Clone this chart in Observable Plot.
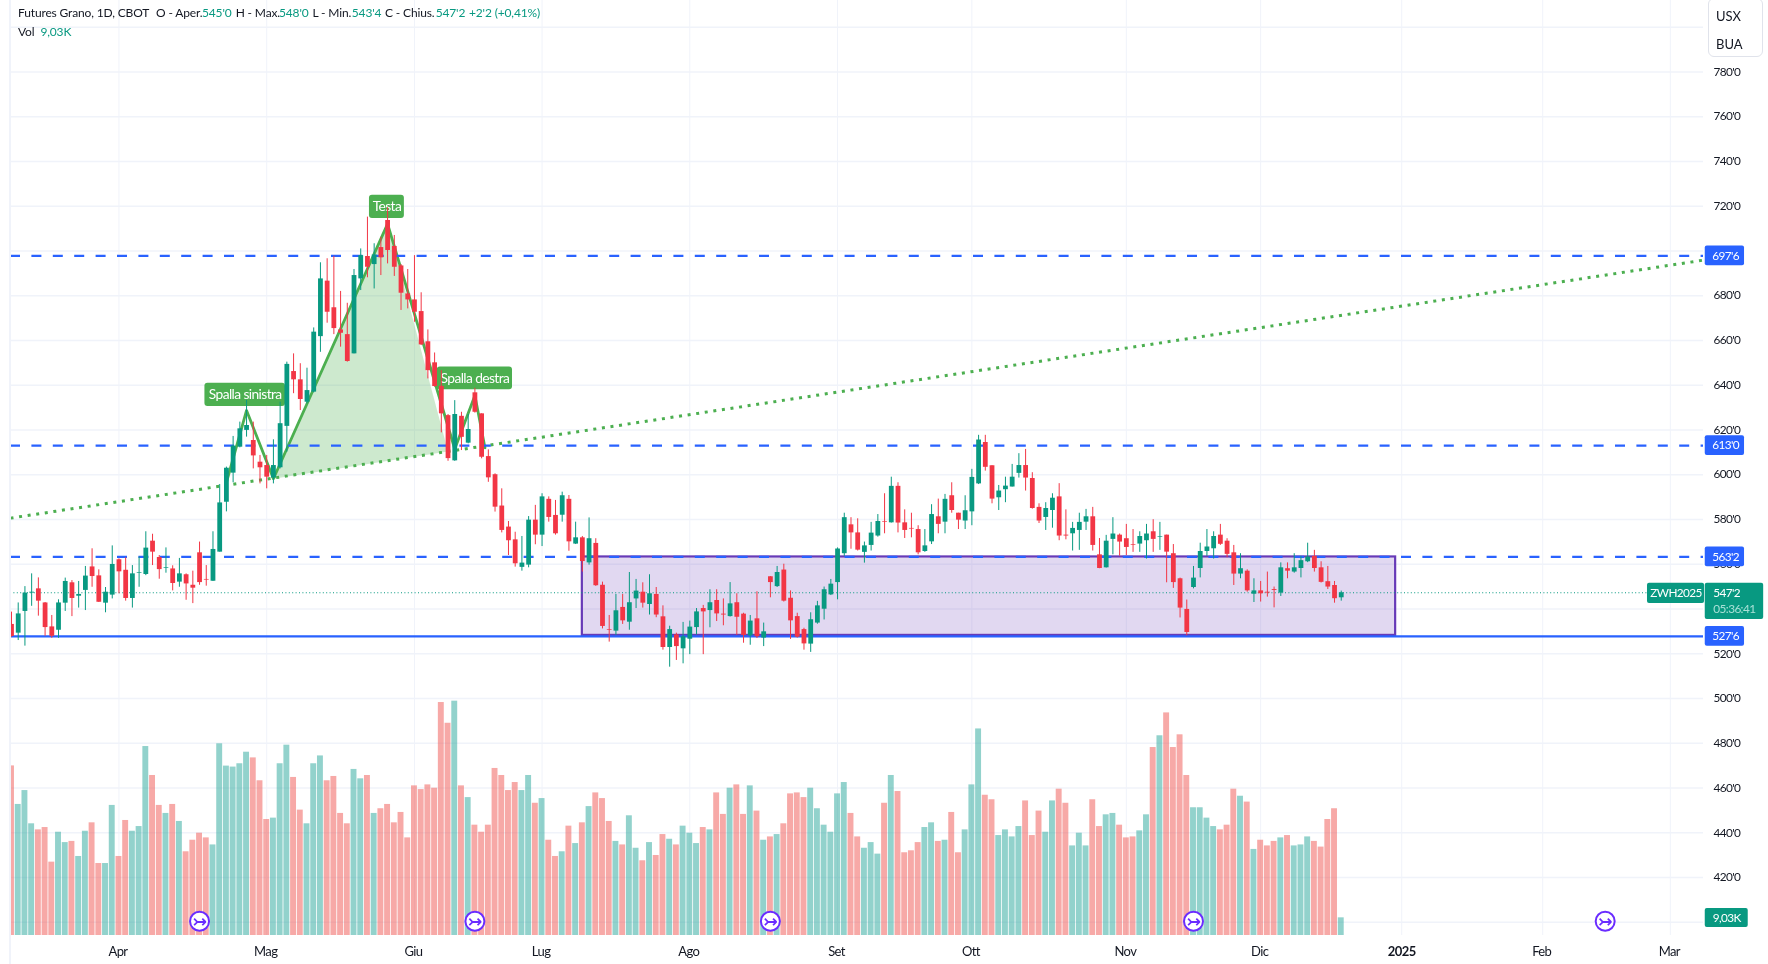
<!DOCTYPE html>
<html lang="it">
<head>
<meta charset="utf-8">
<title>Futures Grano</title>
<script src="https://cdn.jsdelivr.net/npm/d3@7"></script>
<script src="https://cdn.jsdelivr.net/npm/@observablehq/plot@0.6"></script>
<style>
html,body{margin:0;padding:0;background:#fff;}
#chart{position:relative;width:1768px;height:964px;overflow:hidden;background:#fff;font-family:"Lato",sans-serif;color:#131722;filter:blur(0.35px);}
#chart svg{position:absolute;left:0;top:0;}
#chart svg text{letter-spacing:-0.6px;}
.hd{position:absolute;font-size:12px;letter-spacing:-0.15px;line-height:16px;white-space:nowrap;}
.v{color:#089981;}
#units{position:absolute;left:1708px;top:-2px;width:55px;height:59px;border:1px solid #e0e3eb;border-radius:6px;background:#fff;font-size:13px;box-sizing:border-box;}
#units div{position:absolute;left:7px;}
</style>
</head>
<body>
<div id="chart">
</div>
<script>
const opens = [533.1,529.2,538.9,547.1,549.0,542.7,532.0,530.5,542.6,551.7,545.7,548.3,558.8,554.8,542.6,546.2,562.0,557.3,544.7,556.0,555.4,570.3,563.0,558.2,557.9,552.0,555.3,550.6,565.1,553.2,552.4,565.4,587.7,600.7,612.3,619.8,615.3,605.6,604.1,598.5,603.1,621.6,646.1,642.4,632.4,636.9,661.7,686.5,674.6,664.7,662.6,654.0,687.5,697.5,693.9,701.5,713.6,702.0,693.3,680.8,678.1,672.9,659.4,650.0,639.5,626.4,606.2,626.1,614.1,636.6,627.2,608.1,600.0,
586.0,576.6,570.9,558.6,559.6,579.7,573.0,589.0,581.8,581.9,589.0,569.0,571.8,560.6,569.3,550.6,530.8,530.1,540.7,534.1,544.5,547.5,542.0,546.5,536.5,522.8,528.4,522.2,526.5,531.7,540.2,539.3,543.8,537.7,536.6,542.8,537.7,528.0,535.6,527.0,554.4,550.0,557.4,544.8,536.6,530.8,524.3,533.7,539.9,546.3,551.8,
564.7,577.6,574.0,565.3,568.4,572.6,579.1,578.5,594.8,578.5,576.0,575.5,565.7,570.0,581.2,578.8,590.6,582.8,579.3,583.4,595.9,614.4,604.0,589.7,593.3,594.5,600.6,604.1,598.3,585.4,580.9,584.0,590.1,573.0,573.6,575.1,578.8,581.2,564.2,558.4,571.1,573.0,571.4,568.8,569.0,570.5,574.5,572.1,573.0,564.7,553.5,539.8,549.6,558.1,565.7,566.9,573.0,570.3,565.1,555.6,556.9,546.6,548.1,547.5,548.7,547.1,558.0,556.5,558.1,561.1,563.5,558.4,552.2,550.5,545.0];
const closes = [527.7,537.8,547.1,547.5,543.5,531.7,527.8,542.7,552.3,544.7,546.5,554.7,554.5,543.0,547.5,559.9,556.6,544.7,555.7,556.3,567.2,565.4,557.6,558.5,551.4,555.7,551.2,549.3,551.8,552.9,566.6,587.4,602.9,612.8,620.5,622.0,608.4,603.1,598.9,604.1,622.8,649.3,642.4,633.6,637.6,663.7,687.5,672.6,665.3,663.2,650.6,689.0,697.9,692.7,698.2,696.9,700.2,692.7,681.1,678.1,672.6,658.0,646.5,639.4,627.2,607.2,626.9,616.7,620.2,627.9,607.8,598.6,585.5,
575.1,570.5,560.2,560.5,579.7,573.0,590.1,580.9,573.6,590.6,570.0,571.8,561.2,571.4,550.4,532.2,530.5,539.2,534.7,542.8,548.0,542.6,546.8,537.3,522.8,530.8,523.2,527.6,531.9,538.7,538.7,542.8,537.8,537.3,542.3,536.3,528.2,534.6,527.6,529.8,551.8,556.3,543.5,534.7,527.4,524.4,535.2,541.4,548.6,551.1,566.8,
580.8,574.0,566.3,568.2,573.9,579.1,578.8,594.8,578.4,575.1,575.7,565.1,568.2,582.2,577.8,589.0,584.0,579.7,583.9,598.8,615.5,603.3,589.1,592.7,594.9,598.9,604.1,598.5,584.9,579.3,584.9,589.5,572.6,572.6,576.0,578.7,581.2,568.4,558.1,570.3,573.5,569.9,567.5,568.5,572.4,573.5,571.1,572.4,565.4,551.8,540.4,529.5,553.8,565.7,567.7,572.4,568.9,564.4,555.6,558.0,548.1,548.1,546.8,547.1,548.3,558.4,556.9,558.4,561.6,563.2,558.1,551.9,549.8,544.6,547.25];
const highs = [538.6,542.7,550.0,555.7,553.9,542.9,537.1,544.1,553.8,552.7,552.3,559.0,566.9,557.5,549.6,568.2,562.4,562.9,559.4,563.2,574.5,573.4,563.9,567.3,559.3,562.6,555.7,556.9,569.9,559.4,574.5,595.6,603.4,617.1,623.5,633.2,623.5,608.6,608.6,615.6,632.4,650.3,654.0,649.6,647.6,665.6,694.7,696.5,697.6,681.9,676.6,691.7,700.9,715.1,703.2,706.1,719.3,706.9,693.9,691.7,697.9,681.3,664.7,654.4,646.5,626.9,633.1,627.9,626.9,638.6,627.2,611.1,600.4,
593.7,579.1,574.3,572.4,581.3,586.3,591.5,590.1,588.5,592.2,590.7,578.8,572.4,580.7,571.4,552.0,537.1,546.5,546.5,556.3,553.2,551.7,555.3,549.6,541.4,532.3,529.2,534.0,534.6,540.2,541.6,548.6,548.6,544.5,551.8,546.8,538.1,537.1,547.7,533.7,554.5,559.0,560.0,548.1,538.1,531.4,538.3,543.4,549.8,553.2,567.3,
582.8,580.8,580.3,569.9,578.7,582.2,591.5,598.9,596.4,584.3,582.8,577.2,575.5,586.6,589.1,591.2,596.4,582.8,590.6,602.4,617.6,617.6,604.0,595.2,598.9,604.6,609.4,611.3,600.9,587.0,587.5,591.5,596.0,584.3,578.7,582.8,584.5,585.4,571.5,572.9,580.8,573.5,577.8,575.5,574.5,577.8,579.9,578.7,573.0,568.8,553.8,544.0,559.0,569.4,575.5,574.5,577.8,571.4,568.4,564.7,557.5,553.5,552.3,556.5,549.8,560.6,560.6,564.7,563.5,569.4,566.2,561.1,559.0,552.3,548.0];
const lows = [527.4,525.9,523.4,541.2,536.8,527.8,526.9,526.9,538.9,536.6,540.4,539.3,549.7,542.9,538.3,544.5,546.8,543.5,540.4,549.7,554.9,559.4,553.3,556.0,548.1,549.7,543.9,542.4,550.6,550.2,552.3,565.4,583.4,596.4,612.0,616.8,602.6,595.9,593.7,595.9,602.6,610.1,636.2,628.7,631.6,636.6,654.7,667.7,662.6,657.0,650.3,654.0,682.3,688.0,683.0,689.0,694.2,688.6,673.4,674.1,668.1,657.7,642.8,639.1,618.7,606.0,606.0,610.8,613.8,627.5,607.1,596.6,583.3,
574.0,563.9,558.7,556.9,558.4,568.7,567.9,578.8,573.0,578.8,565.8,568.8,556.5,559.6,550.1,531.1,525.2,528.2,533.1,530.5,540.2,540.4,537.3,536.1,521.6,514.0,517.0,515.5,519.6,528.4,519.6,531.6,534.4,532.5,536.4,528.2,524.7,523.8,526.8,523.2,545.0,549.6,543.1,526.4,527.0,521.6,520.6,533.2,535.1,546.0,544.1,
563.5,566.7,565.9,560.5,565.9,572.1,573.6,578.4,574.0,571.5,571.8,564.2,565.3,568.8,573.6,573.6,582.8,575.5,575.5,577.2,595.6,601.6,587.0,584.0,587.5,594.5,598.5,592.7,584.6,578.2,575.1,576.1,570.5,570.9,565.9,566.2,575.1,565.9,558.0,558.3,564.2,563.6,563.9,565.3,565.3,562.3,565.3,566.2,551.7,549.2,536.0,528.0,549.0,553.9,563.5,562.3,568.4,562.9,550.5,553.5,547.5,542.9,543.1,545.3,540.5,545.6,553.5,556.0,553.9,560.7,556.5,551.6,548.7,542.6,543.5];
const volumesK = [86.7,67.0,74.1,57.1,54.0,55.2,37.5,52.8,47.5,48.1,40.4,53.3,57.6,36.8,36.8,66.5,40.4,58.8,53.3,55.7,96.6,81.8,66.5,62.4,67.0,58.3,42.8,48.7,52.3,49.9,46.3,98.0,86.6,86.1,87.8,93.7,90.8,79.1,59.3,60.0,87.8,97.3,80.8,64.1,57.1,87.8,91.8,79.1,81.3,62.4,57.1,84.9,80.1,81.8,62.4,64.8,67.0,57.6,62.9,49.9,76.5,74.6,77.0,75.3,119.1,108.5,119.8,
76.5,70.5,56.4,52.8,56.4,85.4,81.8,74.1,78.2,74.1,81.8,67.6,70.0,48.7,40.4,42.8,55.9,47.0,57.6,65.9,72.9,70.0,58.3,48.1,46.3,61.2,44.6,38.2,47.5,40.9,51.6,49.2,46.3,55.9,52.3,47.0,55.2,54.0,72.9,61.9,75.3,77.0,61.9,76.5,63.6,48.7,50.4,51.6,57.1,72.4,72.9,70.5,75.3,64.8,56.4,52.8,72.4,78.2,62.4,50.4,44.6,47.5,41.6,67.6,81.8,73.6,
42.3,43.3,47.5,55.2,57.6,48.1,48.7,62.9,42.3,54.0,77.0,105.6,71.7,69.4,51.1,54.0,50.4,55.7,68.8,51.1,63.6,52.8,68.8,74.8,67.6,45.8,52.3,45.8,69.4,55.7,61.7,62.4,56.4,49.9,50.4,53.5,61.7,96.1,102.1,113.8,96.1,102.6,81.8,65.3,65.3,60.0,55.7,54.0,56.4,74.8,71.2,68.2,44.0,48.7,45.8,48.1,49.9,51.1,45.8,46.3,50.4,48.1,45.2,59.3,64.8,9.03];

const monthBars = [16,38,60,79,101,123,143,166,186,228,247];
const monthNames = ["Apr","Mag","Giu","Lug","Ago","Set","Ott","Nov","Dic","Feb","Mar"];
const yearBar = 207, yearName = "2025";
const gridLevels = [400,420,440,460,480,500,520,540,560,580,600,620,640,660,680,700,720,740,760,780,800];
const priceTicks = [420,440,460,480,500,520,560,580,600,620,640,660,680,700,720,740,760,780];
const dashedLevels = [697.75,613,563.25];
const solidLevel = 527.75;
const lastClose = 547.25;
const neckBars = [-0.15,252.2], neckPrices = [580.6,696];
const patternBars = [32,35,39,56,66,69,70.5];
const patternPrices = [596.5,628.7,598.2,712.1,611.5,635.4,612];
const shadeBars = [39,56,65], shadePrices = [598.2,712.1,610.4];
const boxBars = [85,206.1], boxPrices = [528.2,563.25];
const labelNames = ["Spalla sinistra","Testa","Spalla destra"];
const labelX1 = [28.8,53.3,63.4], labelX2 = [40.8,58.5,74.6];
const labelLow = [630.5,714.5,638], labelHigh = [640.9,724.9,648.1];
const eventBars = [28,69,113,176,237.3];
const eventLevel = 7.3;

const UP = "#089981", DOWN = "#F23645", BLUE = "#2962FF", PATTERN = "#4CAF50", PURPLE = "#673AB7", GRID = "#f0f3fa";
const FONT = "Lato, sans-serif";
const priceLabel = p => { const w = Math.floor(p), q = Math.round((p - w) * 8); return `${w}'${q}`; };

const candles = opens.map((o, i) => ({i, open:o, close:closes[i], high:highs[i], low:lows[i], up:closes[i] >= o}));
const vols = volumesK.map((v, i) => ({i, v, up:candles[i].up}));
const labels = labelNames.map((t, k) => ({t, x1:labelX1[k], x2:labelX2[k], y1:labelLow[k], y2:labelHigh[k], cx:(labelX1[k]+labelX2[k])/2, cy:(labelLow[k]+labelHigh[k])/2}));
const pattern = patternBars.map((x, k) => ({x, y:patternPrices[k]}));
const shade = shadeBars.map((x, k) => ({x, y:shadePrices[k]}));
const neck = neckBars.map((x, k) => ({x, y:neckPrices[k]}));

const xScale = {type:"linear", domain:[-0.149,251.94]};
const common = {width:1768, height:964, marginLeft:10, marginRight:65, marginTop:0, marginBottom:29, style:{background:"transparent", fontFamily:FONT, fontSize:"12px", color:"#131722"}};

const pricePlot = Plot.plot({
  ...common,
  x:{...xScale, axis:null},
  y:{type:"linear", domain:[394.1,811.9], axis:null},
  color:{type:"identity"},
  marks:[
    Plot.ruleY(gridLevels, {y:d=>d, stroke:GRID, strokeWidth:1.5}),
    Plot.ruleX(monthBars.concat([yearBar]), {x:d=>d, stroke:GRID, strokeWidth:1}),
    Plot.rect([{x1:boxBars[0], x2:boxBars[1], y1:boxPrices[0], y2:boxPrices[1]}], {x1:"x1", x2:"x2", y1:"y1", y2:"y2", fill:PURPLE, fillOpacity:0.2, stroke:PURPLE, strokeWidth:2.2}),
    Plot.line(shade, {x:"x", y:"y", fill:PATTERN, fillOpacity:0.28, stroke:"none"}),
    Plot.line(neck, {x:"x", y:"y", stroke:PATTERN, strokeWidth:3, strokeDasharray:"3,5.67", strokeLinecap:"butt"}),
    Plot.line(pattern, {x:"x", y:"y", stroke:PATTERN, strokeWidth:2.8}),
    Plot.ruleY(dashedLevels, {y:d=>d, stroke:BLUE, strokeWidth:2.3, strokeDasharray:"10,11.4"}),
    Plot.ruleY([solidLevel], {y:d=>d, stroke:BLUE, strokeWidth:2.4}),
    Plot.ruleY([lastClose], {y:d=>d, x2:243.6, x1:-0.149, stroke:UP, strokeWidth:1, strokeDasharray:"1,2.4"}),
    Plot.rect(labels, {x1:"x1", x2:"x2", y1:"y1", y2:"y2", fill:PATTERN, rx:3}),
    Plot.text(labels, {x:"cx", y:"cy", text:"t", fill:"white", fontSize:13.8}),
    Plot.ruleX(candles, {x:"i", y1:"low", y2:"high", stroke:d=>d.up?UP:DOWN, strokeWidth:1, clip:true}),
    Plot.ruleX(candles, {x:"i", y1:"open", y2:"close", stroke:d=>d.up?UP:DOWN, strokeWidth:4.8, clip:true}),
    Plot.axisX({ticks:monthBars, tickFormat:d=>monthNames[monthBars.indexOf(d)], tickSize:0, tickPadding:11, label:null, fontSize:13, dx:-1}),
    Plot.axisX({ticks:[yearBar], tickFormat:()=>yearName, tickSize:0, tickPadding:11, label:null, fontWeight:"bold", fontSize:13}),
    Plot.axisY({anchor:"right", ticks:priceTicks, tickFormat:priceLabel, tickSize:0, tickPadding:10, label:null, fontSize:11.8}),
    Plot.rect(dashedLevels.concat([solidLevel]), {x1:252.2, x2:258.05, y1:d=>d-4.4, y2:d=>d+4.4, fill:BLUE, rx:2, clip:false}),
    Plot.text(dashedLevels.concat([solidLevel]), {x:255.25, y:d=>d, text:priceLabel, fill:"white", fontSize:11.8, clip:false}),
    Plot.rect([lastClose], {x1:243.6, x2:252.1, y1:d=>d-4.8, y2:d=>d+4.2, fill:UP, rx:2}),
    Plot.text(["ZWH2025"], {x:247.85, y:lastClose-0.2, text:d=>d, fill:"white", fontSize:11.8}),
    Plot.rect([lastClose], {x1:252.2, x2:260.9, y1:d=>d-11.9, y2:d=>d+4.2, fill:UP, rx:2}),
    Plot.text([lastClose], {x:253.4, y:d=>d-0.1, text:priceLabel, fill:"white", textAnchor:"start", fontSize:11.8}),
    Plot.text(["05:36:41"], {x:253.4, y:lastClose-7.2, text:d=>d, fill:"#a8e0d6", textAnchor:"start", fontSize:11.8})
  ]
});

const volumePlot = Plot.plot({
  ...common,
  x:{...xScale, axis:null},
  y:{type:"linear", domain:[0,478], axis:null},
  color:{type:"identity"},
  marks:[
    Plot.rectY(vols, {x1:d=>d.i-0.44, x2:d=>d.i+0.44, y1:0, y2:"v", fill:d=>d.up?"#26A69A":"#EF5350", fillOpacity:0.5, clip:true}),
    Plot.dot(eventBars, {x:d=>d, y:eventLevel, r:9.5, fill:"white", stroke:"#6A2CFF", strokeWidth:2}),
    Plot.text(eventBars, {x:d=>d, y:eventLevel, text:()=>"↣", fill:"#6A2CFF", fontSize:17, fontWeight:"bold", fontFamily:"DejaVu Sans"}),
    Plot.rect(["9,03K"], {x1:252.2, x2:258.6, y1:4.1, y2:13.8, fill:UP, rx:2}),
    Plot.text(["9,03K"], {x:255.4, y:8.95, text:d=>d, fill:"white", fontSize:11.8})
  ]
});

const root = document.getElementById("chart");
root.append(pricePlot, volumePlot);

const leftEdge = document.createElement("div");
leftEdge.style.cssText = "position:absolute;left:9px;top:0;width:2px;height:964px;background:#f0f3fa;";
root.append(leftEdge);

const headerParts = [
  ["Futures Grano, 1D, CBOT",18,false],["O - Aper.",156,false],["545'0",202,true],["H - Max.",235.7,false],["548'0",279,true],
  ["L - Min.",312.5,false],["543'4",351.8,true],["C - Chius.",385,false],["547'2",435.7,true],["+2'2 (+0,41%)",469,true]
];
headerParts.forEach(([t,x,g]) => {
  const s = document.createElement("span");
  s.className = "hd" + (g ? " v" : "");
  s.style.left = x + "px"; s.style.top = "5px"; s.textContent = t; root.append(s);
});
[["Vol",18,false],["9,03K",40.4,true]].forEach(([t,x,g]) => {
  const s = document.createElement("span");
  s.className = "hd" + (g ? " v" : "");
  s.style.left = x + "px"; s.style.top = "24px"; s.textContent = t; root.append(s);
});

const units = document.createElement("div");
units.id = "units";
[["USX",9],["BUA",37]].forEach(([t,y]) => { const d = document.createElement("div"); d.style.top = y + "px"; d.textContent = t; units.append(d); });
root.append(units);
</script>
</body>
</html>
